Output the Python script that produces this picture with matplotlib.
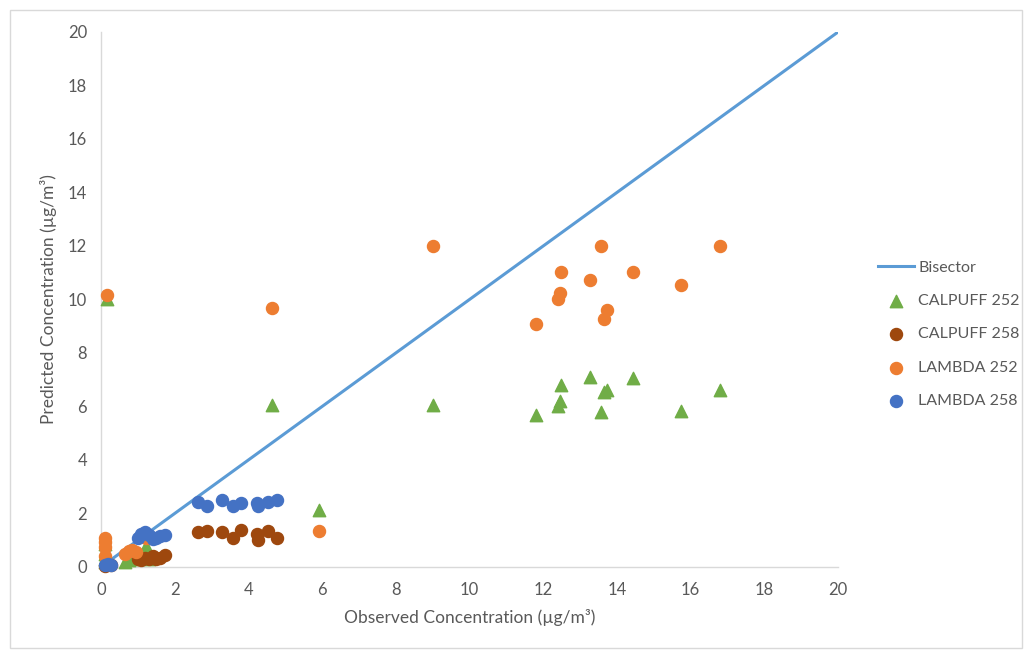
import numpy as np
import matplotlib.pyplot as plt
from matplotlib.patches import Rectangle

plt.rcParams['font.family'] = ['Lato', 'DejaVu Sans']

##################
# data
##################
# receptor 252: observed vs predicted
obs_252 = [0.16, 4.64, 5.92, 9.01, 11.8, 12.4, 12.46, 12.48, 13.27, 13.57, 13.65, 13.72, 14.44, 15.74, 16.8,
           0.1, 0.1, 0.12, 0.12, 0.65, 0.75, 0.85, 0.95, 1.22, 1.3]
calpuff_252 = [10.02, 6.06, 2.13, 6.06, 5.68, 6.0, 6.2, 6.8, 7.1, 5.8, 6.55, 6.62, 7.08, 5.83, 6.6,
               0.85, 0.5, 0.3, 0.2, 0.2, 0.25, 0.3, 0.35, 0.8, 0.3]
lambda_252 = [10.17, 9.7, 1.35, 12.0, 9.08, 10.02, 10.24, 11.03, 10.73, 12.0, 9.27, 9.6, 11.03, 10.54, 12.0,
              1.1, 0.95, 0.75, 0.4, 0.5, 0.6, 0.65, 0.55, 1.1, 1.1]

# receptor 258: observed vs predicted
obs_258 = [2.63, 2.88, 3.28, 3.58, 3.80, 4.23, 4.26, 4.53, 4.78,
           0.12, 0.2, 0.28, 1.0, 1.1, 1.2, 1.3, 1.4, 1.5, 1.6, 1.75]
calpuff_258 = [1.31, 1.35, 1.3, 1.1, 1.38, 1.25, 1.0, 1.35, 1.1,
               0.05, 0.1, 0.08, 0.3, 0.25, 0.35, 0.3, 0.4, 0.3, 0.35, 0.45]
lambda_258 = [2.43, 2.28, 2.50, 2.28, 2.39, 2.39, 2.28, 2.43, 2.50,
              0.08, 0.12, 0.08, 1.1, 1.25, 1.3, 1.2, 1.05, 1.1, 1.15, 1.2]

ticks = np.arange(0, 21, 2)

##################
# plot
##################
fig = plt.figure(figsize=(10.27, 6.53), dpi=100)
ax = fig.add_axes([0.0983, 0.1317, 0.7177, 0.8193])

ax.plot([0, 20], [0, 20], color='#5B9BD5', lw=2.2, label='Bisector', zorder=2)
ax.scatter(obs_252, calpuff_252, marker='^', s=80, color='#70AD47', label='CALPUFF 252', zorder=3, clip_on=False)
ax.scatter(obs_258, calpuff_258, marker='o', s=75, color='#9E480E', label='CALPUFF 258', zorder=4, clip_on=False)
ax.scatter(obs_252, lambda_252, marker='o', s=75, color='#ED7D31', label='LAMBDA 252', zorder=5, clip_on=False)
ax.scatter(obs_258, lambda_258, marker='o', s=75, color='#4472C4', label='LAMBDA 258', zorder=6, clip_on=False)

ax.set_xlim(0, 20)
ax.set_ylim(0, 20)
ax.set_xticks(ticks)
ax.set_yticks(ticks)
for s in ['top', 'right']:
    ax.spines[s].set_visible(False)
for s in ['left', 'bottom']:
    ax.spines[s].set_color('#D9D9D9')
    ax.spines[s].set_linewidth(1.0)
ax.tick_params(length=0, labelsize=12, labelcolor='#595959')
ax.tick_params(axis='x', pad=11)
ax.tick_params(axis='y', pad=10)
ax.set_xlabel('Observed Concentration (µg/m³)', fontsize=12.5, color='#595959', labelpad=8)
ax.set_ylabel('Predicted Concentration (µg/m³)', fontsize=12.5, color='#595959', labelpad=8)

leg = ax.legend(loc='center left', bbox_to_anchor=(1.045, 0.435), frameon=False, fontsize=11.5,
                labelcolor='#595959', handlelength=2.3, handletextpad=0.25, labelspacing=1.2,
                borderaxespad=0)

# chart area border
fig.patches.append(Rectangle((10 / 1027, 5 / 653), 1012 / 1027, 638 / 653, transform=fig.transFigure,
                             fill=False, edgecolor='#D9D9D9', lw=1.0))

fig.savefig('out.png', dpi=100)
